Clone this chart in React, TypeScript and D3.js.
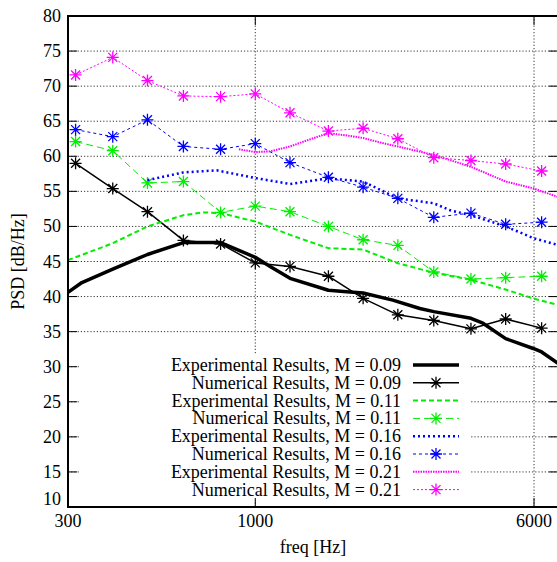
import React from "react";
import * as d3 from "d3";

// ---------- data ----------
const numFreqs = [315, 400, 500, 630, 800, 1000, 1250, 1600, 2000, 2500, 3150, 4000, 5000, 6300];
const num009 = [59.0, 55.4, 52.1, 48.0, 47.5, 44.8, 44.3, 42.9, 39.75, 37.4, 36.6, 35.4, 36.8, 35.5];
const num011 = [62.1, 60.8, 56.2, 56.4, 52.0, 52.9, 52.1, 50.0, 48.1, 47.3, 43.5, 42.5, 42.7, 42.9];
const num016 = [63.8, 62.8, 65.2, 61.4, 61.0, 61.8, 59.1, 57.0, 55.6, 54.0, 51.3, 51.9, 50.3, 50.6];
const num021 = [71.6, 74.1, 70.8, 68.6, 68.5, 68.9, 66.2, 63.6, 64.0, 62.5, 59.8, 59.4, 58.9, 57.9];

const exp009F = [300, 328, 400, 500, 630, 800, 900, 1000, 1100, 1250, 1600, 1800, 2000, 2420, 2880, 3150, 4000, 4320, 5000, 5970, 6300, 7000];
const exp009 = [40.6, 42.0, 43.9, 46.0, 47.7, 47.7, 46.6, 45.6, 44.3, 42.6, 40.9, 40.7, 40.5, 39.5, 38.3, 37.85, 36.9, 36.2, 34.0, 32.6, 32.1, 30.5];

const exp011F = [300, 400, 500, 630, 716, 800, 1000, 1250, 1600, 2000, 2500, 3150, 4000, 5000, 6000, 7000];
const exp011 = [45.2, 47.6, 50.0, 51.6, 52.0, 51.9, 50.7, 48.8, 46.9, 46.7, 44.75, 43.4, 42.4, 41.0, 39.7, 38.8];

const exp016F = [500, 630, 780, 1000, 1250, 1600, 2000, 2500, 3150, 3500, 4000, 5000, 6000, 7000];
const exp016 = [56.6, 57.7, 58.0, 56.9, 56.05, 56.85, 56.4, 54.0, 53.3, 52.3, 51.6, 50.0, 48.3, 47.35];

const exp021F = [900, 1000, 1100, 1250, 1400, 1600, 1840, 2000, 2280, 2500, 3150, 4000, 5000, 6000, 7000];
const exp021 = [61.0, 60.6, 60.7, 61.4, 62.3, 63.3, 62.9, 62.6, 61.85, 61.4, 60.2, 58.5, 56.4, 55.4, 54.2];

const yTicks = [10, 15, 20, 25, 30, 35, 40, 45, 50, 55, 60, 65, 70, 75, 80];
const xTicks = [300, 1000, 6000];

const legendLabels = [
  "Experimental Results, M = 0.09",
  "Numerical Results, M = 0.09",
  "Experimental Results, M = 0.11",
  "Numerical Results, M = 0.11",
  "Experimental Results, M = 0.16",
  "Numerical Results, M = 0.16",
  "Experimental Results, M = 0.21",
  "Numerical Results, M = 0.21",
];

// ---------- styles ----------
type Style = { color: string; width: number; dash?: string; marker: boolean };
const styles: Style[] = [
  { color: "#000000", width: 3.5, marker: false },
  { color: "#000000", width: 1.5, marker: true },
  { color: "#00ee00", width: 2, dash: "5,3", marker: false },
  { color: "#00ee00", width: 1, dash: "7,4", marker: true },
  { color: "#0000ff", width: 2.5, dash: "2,3", marker: false },
  { color: "#0000ff", width: 1, dash: "3,3", marker: true },
  { color: "#ff00ff", width: 2, dash: "1.5,1", marker: false },
  { color: "#ff00ff", width: 1, dash: "2,2", marker: true },
];

const W = 557, H = 562;
const L = 68, R = 558, T = 16, B = 507;
const FONT = "'Liberation Serif', 'Times New Roman', serif";
const FS = 18;

export default function App() {
  const x = d3.scaleLog().domain([300, 7000]).range([L, R]);
  const y = d3.scaleLinear().domain([10, 80]).range([B, T]);
  const line = d3.line<[number, number]>().x((d) => x(d[0])).y((d) => y(d[1]));

  const series: { f: number[]; v: number[] }[] = [
    { f: exp009F, v: exp009 },
    { f: numFreqs, v: num009 },
    { f: exp011F, v: exp011 },
    { f: numFreqs, v: num011 },
    { f: exp016F, v: exp016 },
    { f: numFreqs, v: num016 },
    { f: exp021F, v: exp021 },
    { f: numFreqs, v: num021 },
  ];

  const star = (cx: number, cy: number, color: string, key: string) => {
    const s = 6;
    const d = 4.5;
    return (
      <path
        key={key}
        d={`M${cx - s},${cy}H${cx + s}M${cx},${cy - s}V${cy + s}M${cx - d},${cy - d}L${cx + d},${cy + d}M${cx - d},${cy + d}L${cx + d},${cy - d}`}
        stroke={color}
        strokeWidth={1.3}
        fill="none"
      />
    );
  };

  const legX = 401, legY0 = 365, legDy = 17.8, sampleX0 = 413, sampleX1 = 459;

  return (
    <svg width={W} height={H} style={{ position: "absolute", left: 0, top: 0 }} fontFamily={FONT}>
      <rect width={W} height={H} fill="white" />
      <defs>
        <clipPath id="plot">
          <rect x={L} y={T} width={R - L} height={B - T} />
        </clipPath>
      </defs>
      {/* grid */}
      {yTicks.filter((t) => t > 10 && t < 80).map((t) => (
        <line key={"gy" + t} x1={L} x2={R} y1={y(t)} y2={y(t)} stroke="#000" strokeWidth={0.8} strokeDasharray="1.2,2" />
      ))}
      {xTicks.filter((t) => t > 300).map((t) => (
        <line key={"gx" + t} x1={x(t)} x2={x(t)} y1={T} y2={B} stroke="#000" strokeWidth={0.8} strokeDasharray="1.2,2" />
      ))}
      {/* opaque key box */}
      <rect x={79} y={355} width={391} height={145} fill="white" />
      {/* ticks */}
      {yTicks.map((t) => (
        <g key={"ty" + t}>
          <line x1={L} x2={L + 9} y1={y(t)} y2={y(t)} stroke="#000" strokeWidth={1} />
          <line x1={R - 9} x2={R} y1={y(t)} y2={y(t)} stroke="#000" strokeWidth={1} />
          <text x={61} y={t === 10 ? y(t) - 8 : y(t)} textAnchor="end" dominantBaseline="central" fontSize={FS}>
            {t}
          </text>
        </g>
      ))}
      {xTicks.map((t) => (
        <g key={"tx" + t}>
          <line x1={x(t)} x2={x(t)} y1={B} y2={B - 9} stroke="#000" strokeWidth={1} />
          <line x1={x(t)} x2={x(t)} y1={T} y2={T + 9} stroke="#000" strokeWidth={1} />
          <text x={x(t)} y={521} textAnchor="middle" dominantBaseline="central" fontSize={FS}>
            {t}
          </text>
        </g>
      ))}
      {/* data */}
      <g clipPath="url(#plot)">
        {series.map((s, i) => {
          const st = styles[i];
          const pts = s.f.map((f, j) => [f, s.v[j]] as [number, number]);
          return (
            <g key={"s" + i}>
              <path d={line(pts) || ""} fill="none" stroke={st.color} strokeWidth={st.width} strokeDasharray={st.dash} strokeLinejoin="round" />
              {st.marker && pts.map((p, j) => star(x(p[0]), y(p[1]), st.color, `m${i}-${j}`))}
            </g>
          );
        })}
      </g>
      {/* legend */}
      {legendLabels.map((lab, i) => {
        const st = styles[i];
        const yy = legY0 + i * legDy;
        return (
          <g key={"lg" + i}>
            <text x={legX} y={yy} textAnchor="end" dominantBaseline="central" fontSize={FS}>
              {lab}
            </text>
            <line x1={sampleX0} x2={sampleX1} y1={yy} y2={yy} stroke={st.color} strokeWidth={st.width} strokeDasharray={st.dash} />
            {st.marker && star((sampleX0 + sampleX1) / 2, yy, st.color, "lm" + i)}
          </g>
        );
      })}
      {/* border */}
      <rect x={L} y={T} width={R - L} height={B - T} fill="none" stroke="#000" strokeWidth={2} />
      {/* axis labels */}
      <text x={(L + R) / 2} y={553} textAnchor="middle" fontSize={FS}>
        freq [Hz]
      </text>
      <text transform={`translate(24,${(T + B) / 2}) rotate(-90)`} textAnchor="middle" fontSize={FS}>
        PSD [dB/Hz]
      </text>
    </svg>
  );
}
